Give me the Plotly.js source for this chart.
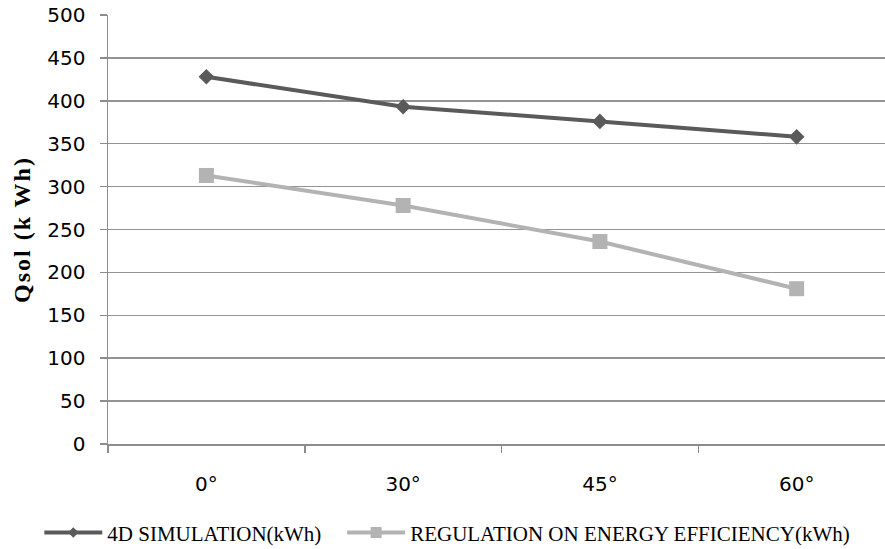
<!DOCTYPE html>
<html>
<head>
<meta charset="utf-8">
<script src="https://cdn.plot.ly/plotly-3.0.1.min.js"></script>
<style>html,body{margin:0;padding:0;background:#fff;}#chart{width:885px;height:549px;} .ytitle{letter-spacing:2px;}</style>
</head>
<body>
<div id="chart"></div>
<script>
const categories = ["0°", "30°", "45°", "60°"];
const simulation4D = [428, 393, 376, 358];
const regulation = [313, 278, 236, 181];
const seriesNames = ["4D SIMULATION(kWh)", "REGULATION ON ENERGY EFFICIENCY(kWh)"];
const yTicks = [0, 50, 100, 150, 200, 250, 300, 350, 400, 450, 500];

const dark = "#5a5a5a", light = "#b3b3b3";
const legendPad = "\u00a0\u00a0\u00a0";
const traces = [
  {
    x: categories, y: simulation4D, name: seriesNames[0], type: "scatter", mode: "lines+markers",
    showlegend: false,
    line: {color: dark, width: 4},
    marker: {symbol: "diamond", size: 12, color: dark}
  },
  {
    x: categories, y: regulation, name: seriesNames[1], type: "scatter", mode: "lines+markers",
    showlegend: false,
    line: {color: light, width: 4},
    marker: {symbol: "square", size: 15, color: light}
  },
  // legend-only entries (smaller legend symbols, as in the original)
  {
    x: [null], y: [null], name: seriesNames[0] + legendPad, type: "scatter", mode: "lines+markers",
    line: {color: dark, width: 4},
    marker: {symbol: "diamond", size: 8, color: dark}
  },
  {
    x: [null], y: [null], name: seriesNames[1], type: "scatter", mode: "lines+markers",
    line: {color: light, width: 4},
    marker: {symbol: "square", size: 11, color: light}
  }
];

const layout = {
  width: 885, height: 549,
  margin: {l: 108, r: 0, t: 15, b: 105, autoexpand: false},
  paper_bgcolor: "#fff", plot_bgcolor: "#fff",
  showlegend: true,
  legend: {
    orientation: "h", x: -0.0884, xanchor: "left", y: -0.207, yanchor: "middle",
    font: {family: "Liberation Serif, Times New Roman, serif", size: 21, color: "#000"},
    itemwidth: 58, tracegroupgap: 0
  },
  xaxis: {
    type: "category", range: [-0.5, 3.449],
    showgrid: false, zeroline: false,
    showline: true, linecolor: "#8c8c8c", linewidth: 1.5,
    ticks: "outside", tickson: "boundaries", ticklen: 7, tickcolor: "#8c8c8c", tickwidth: 1.5,
    tickfont: {family: "DejaVu Sans, Verdana, sans-serif", size: 20, color: "#000"},
    ticklabelstandoff: 21
  },
  yaxis: {
    range: [0, 500], tickvals: yTicks, ticktext: yTicks.map(String),
    showgrid: true, gridcolor: "#939393", gridwidth: 1.5,
    zeroline: false, showline: true, linecolor: "#8c8c8c", linewidth: 1.5,
    ticks: "outside", ticklen: 7, tickcolor: "#8c8c8c", tickwidth: 1.5,
    tickfont: {family: "DejaVu Sans, Verdana, sans-serif", size: 20, color: "#000"},
    ticklabelstandoff: 10,
    title: {text: "<b>Qsol (k Wh)</b>", font: {family: "Liberation Serif, Times New Roman, serif", size: 24, color: "#000"}, standoff: 10}
  }
};

Plotly.newPlot("chart", traces, layout, {displayModeBar: false, staticPlot: true});
</script>
</body>
</html>
